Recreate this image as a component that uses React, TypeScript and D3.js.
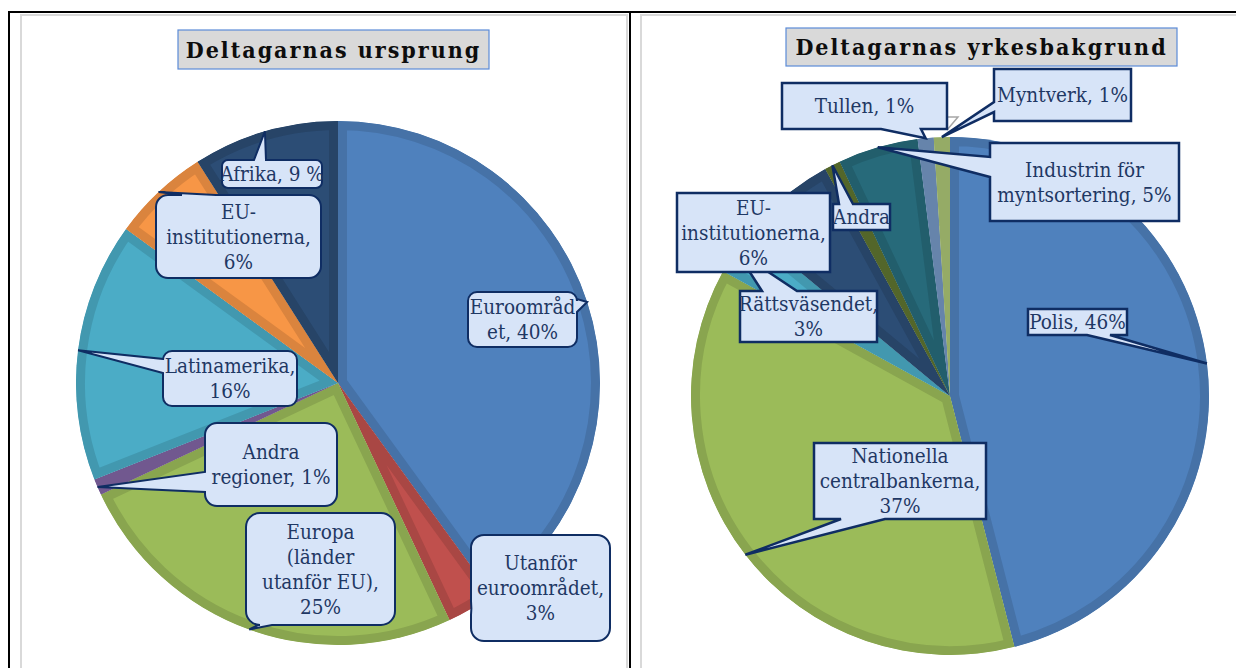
import * as React from 'react';
import {arc, pie, color} from 'd3';

const width = 1236;
const height = 668;

// Deltagarnas ursprung
const originNames = ['Euroområdet', 'Utanför euroområdet', 'Europa (länder utanför EU)', 'Andra regioner', 'Latinamerika', 'EU-institutionerna', 'Afrika'];
const originValues = [40, 3, 25, 1, 16, 6, 9];
const originColors = ['#4F81BD', '#C0504D', '#9BBB59', '#8064A2', '#4BACC6', '#F79646', '#2C4D75'];
const originText = [
    ['Euroområd', 'et, 40%'],
    ['Utanför', 'euroområdet,', '3%'],
    ['Europa', '(länder', 'utanför EU),', '25%'],
    ['Andra', 'regioner, 1%'],
    ['Latinamerika,', '16%'],
    ['EU-', 'institutionerna,', '6%'],
    ['Afrika, 9 %'],
];

// Deltagarnas yrkesbakgrund
const professionNames = ['Polis', 'Nationella centralbankerna', 'Rättsväsendet', 'EU-institutionerna', 'Andra', 'Industrin för myntsortering', 'Tullen', 'Myntverk'];
const professionValues = [46, 37, 3, 6, 1, 5, 1, 1];
const professionColors = ['#4F81BD', '#9BBB59', '#4BACC6', '#2C4D75', '#5E7430', '#276A7A', '#7396C2', '#A9C274'];
const professionText = [
    ['Polis, 46%'],
    ['Nationella', 'centralbankerna,', '37%'],
    ['Rättsväsendet,', '3%'],
    ['EU-', 'institutionerna,', '6%'],
    ['Andra'],
    ['Industrin för', 'myntsortering, 5%'],
    ['Tullen, 1%'],
    ['Myntverk, 1%'],
];

type Box = {x: number, y: number, w: number, h: number, r: number, edge: string | null, a: number, b: number};

const originBoxes: Box[] = [
    {x: 468, y: 292, w: 109, h: 55, r: 9, edge: 'right', a: 7, b: 20},
    {x: 471, y: 535, w: 139, h: 106, r: 13, edge: 'left', a: 66, b: 80},
    {x: 246, y: 513, w: 149, h: 112, r: 14, edge: 'bottom', a: 12, b: 26},
    {x: 205, y: 423, w: 132, h: 83, r: 12, edge: 'left', a: 49, b: 69},
    {x: 163, y: 351, w: 134, h: 55, r: 9, edge: 'left', a: 8, b: 22},
    {x: 156, y: 195, w: 165, h: 83, r: 12, edge: 'top', a: 26, b: 60},
    {x: 222, y: 160, w: 100, h: 28, r: 6, edge: 'top', a: 32, b: 44},
];

const professionBoxes: Box[] = [
    {x: 1028, y: 309, w: 99, h: 26, r: 0, edge: 'bottom', a: 59, b: 82},
    {x: 814, y: 443, w: 172, h: 76, r: 0, edge: 'bottom', a: 27, b: 71},
    {x: 740, y: 291, w: 137, h: 51, r: 0, edge: 'top', a: 22, b: 57},
    {x: 677, y: 193, w: 153, h: 79, r: 0, edge: null, a: 0, b: 0},
    {x: 833, y: 204, w: 57, h: 26, r: 0, edge: 'top', a: 6, b: 20},
    {x: 990, y: 143, w: 189, h: 78, r: 0, edge: 'left', a: 14, b: 34},
    {x: 782, y: 83, w: 165, h: 46, r: 0, edge: 'bottom', a: 99, b: 139},
    {x: 994, y: 69, w: 137, h: 52, r: 0, edge: 'left', a: 33, b: 43},
];

const leaderLines = [
    [[947, 117], [958, 117], [947, 130]],
    [[988, 195], [977, 195], [938, 226]],
];

const labelFont = '"DejaVu Serif Condensed", "Liberation Serif", serif';
const titleFont = '"DejaVu Serif Condensed", "DejaVu Serif", serif';
const calloutFill = '#D7E4F8';
const calloutStroke = '#0F2D63';
const textColor = '#1F3864';

function calloutPath(bx: Box, tip: [number, number]) {
    const {x, y, w, h, r, edge, a, b} = bx;
    const [tx, ty] = tip;
    const corner = (cx: number, cy: number) => r > 0 ? `A${r},${r} 0 0 1 ${cx},${cy}` : `L${cx},${cy}`;
    let p = `M${x + r},${y}`;
    if (edge === 'top') p += `L${x + a},${y}L${tx},${ty}L${x + b},${y}`;
    p += `L${x + w - r},${y}` + corner(x + w, y + r);
    if (edge === 'right') p += `L${x + w},${y + a}L${tx},${ty}L${x + w},${y + b}`;
    p += `L${x + w},${y + h - r}` + corner(x + w - r, y + h);
    if (edge === 'bottom') p += `L${x + b},${y + h}L${tx},${ty}L${x + a},${y + h}`;
    p += `L${x + r},${y + h}` + corner(x, y + h - r);
    if (edge === 'left') p += `L${x},${y + b}L${tx},${ty}L${x},${y + a}`;
    p += `L${x},${y + r}` + corner(x + r, y) + 'Z';
    return p;
}

type PieProps = {
    id: string, cx: number, cy: number, radius: number,
    values: number[], colors: string[], text: string[][], boxes: Box[], strokeWidth: number,
};

const PieWithCallouts = ({id, cx, cy, radius, values, colors, text, boxes, strokeWidth}: PieProps) => {
    const slices = pie<number>().sort(null).value(d => d)(values);
    const sliceArc = arc<any>().innerRadius(0).outerRadius(radius);
    return (
        <g>
            <g transform={`translate(${cx},${cy})`}>
                {slices.map((s, i) => {
                    const d = sliceArc(s) as string;
                    const edgeColor = (color(colors[i]) as any).darker(0.35).formatHex();
                    return (
                        <g key={i}>
                            <clipPath id={`${id}-clip-${i}`}><path d={d}/></clipPath>
                            <path d={d} fill={colors[i]} stroke={edgeColor} strokeWidth={18}
                                  clipPath={`url(#${id}-clip-${i})`}/>
                        </g>
                    );
                })}
            </g>
            {slices.map((s, i) => {
                const mid = (s.startAngle + s.endAngle) / 2;
                const tip: [number, number] = [cx + radius * Math.sin(mid), cy - radius * Math.cos(mid)];
                const bx = boxes[i];
                const lines = text[i];
                const midY = bx.y + bx.h / 2;
                return (
                    <g key={i}>
                        <path d={calloutPath(bx, tip)} fill={calloutFill} stroke={calloutStroke}
                              strokeWidth={strokeWidth} strokeLinejoin="miter"/>
                        <text fontFamily={labelFont} fontSize={20.5} fill={textColor} textAnchor="middle">
                            {lines.map((l, j) => (
                                <tspan key={j} x={bx.x + bx.w / 2} y={midY + (j - (lines.length - 1) / 2) * 25 + 7}>{l}</tspan>
                            ))}
                        </text>
                    </g>
                );
            })}
        </g>
    );
};

const Title = ({x, y, w, h, label}: {x: number, y: number, w: number, h: number, label: string}) => (
    <g>
        <rect x={x} y={y} width={w} height={h} fill="#D9D9D9" stroke="#5B8BD8" strokeWidth={1.2}/>
        <text x={x + w / 2} y={y + h / 2 + 8} textAnchor="middle" fontFamily={titleFont} fontWeight="bold"
              fontSize={23} letterSpacing={2} fill="#0D0D0D">{label}</text>
    </g>
);

export default function App() {
    return (
        <svg width={width} height={height} style={{position: 'absolute', left: 0, top: 0, background: '#fff'}}>
            {/* frame */}
            <rect x={21} y={15} width={606} height={680} fill="none" stroke="#D9D9D9" strokeWidth={2}/>
            <rect x={641} y={15} width={620} height={680} fill="none" stroke="#D9D9D9" strokeWidth={2}/>
            <rect x={8} y={11} width={width - 8} height={2} fill="#000"/>
            <rect x={8} y={11} width={2} height={height} fill="#000"/>
            <rect x={629} y={11} width={2} height={height} fill="#000"/>

            <Title x={178} y={30} w={311} h={39} label="Deltagarnas ursprung"/>
            <Title x={786} y={28} w={391} h={38} label="Deltagarnas yrkesbakgrund"/>

            <PieWithCallouts id="origin" cx={338} cy={383} radius={262} values={originValues}
                             colors={originColors} text={originText} boxes={originBoxes} strokeWidth={2}/>

            {leaderLines.map((pts, i) => (
                <polyline key={i} points={pts.map(p => p.join(',')).join(' ')} fill="none" stroke="#A6A6A6" strokeWidth={1.5}/>
            ))}

            <PieWithCallouts id="profession" cx={950} cy={396} radius={259} values={professionValues}
                             colors={professionColors} text={professionText} boxes={professionBoxes} strokeWidth={2.5}/>
        </svg>
    );
}
